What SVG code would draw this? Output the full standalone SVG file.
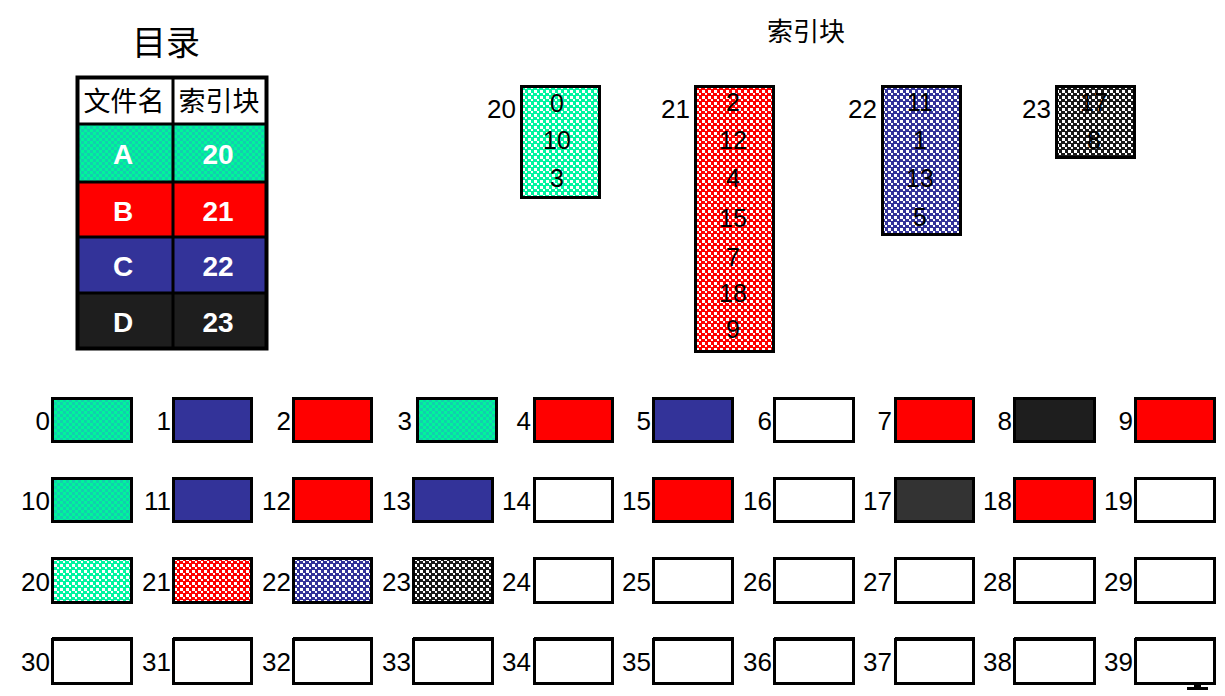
<svg xmlns="http://www.w3.org/2000/svg" width="1225" height="696" viewBox="0 0 1225 696">
<defs>
<pattern id="pTeal" width="6" height="6" patternUnits="userSpaceOnUse">
<rect width="6" height="6" fill="#00f59a"/>
<rect x="0" y="0" width="3" height="3" fill="#12cfae"/>
<rect x="3" y="3" width="3" height="3" fill="#12cfae"/>
</pattern>
<pattern id="pTealW" width="6" height="6" patternUnits="userSpaceOnUse">
<rect width="6" height="6" fill="#00f5a0"/>
<rect x="0" y="0" width="3" height="3" fill="#ffffff"/>
<rect x="3" y="3" width="2" height="2" fill="#ffffff"/>
</pattern>
<pattern id="pRedW" width="6" height="6" patternUnits="userSpaceOnUse">
<rect width="6" height="6" fill="#ff0000"/>
<rect x="0" y="0" width="3" height="3" fill="#ffffff"/>
<rect x="3" y="3" width="2" height="2" fill="#ffffff"/>
</pattern>
<pattern id="pBlueW" width="6" height="6" patternUnits="userSpaceOnUse">
<rect width="6" height="6" fill="#333399"/>
<rect x="0" y="0" width="3" height="3" fill="#ffffff"/>
<rect x="3" y="3" width="2" height="2" fill="#ffffff"/>
</pattern>
<pattern id="pBlackW" width="6" height="6" patternUnits="userSpaceOnUse">
<rect width="6" height="6" fill="#1a1a1a"/>
<rect x="0" y="0" width="3" height="3" fill="#ffffff"/>
<rect x="3" y="3" width="2" height="2" fill="#ffffff"/>
</pattern>
</defs>
<style>
.box{stroke:#000;stroke-width:3}
.lbl{font-family:"Liberation Sans",Arial,sans-serif;font-size:26px;fill:#000;text-anchor:end}
.idx{font-family:"Liberation Sans",Arial,sans-serif;font-size:25px;fill:#000;text-anchor:middle}
.cjk{font-family:"Liberation Sans","Noto Sans CJK SC",sans-serif;fill:#000;text-anchor:middle}
.cell{font-family:"Liberation Sans",Arial,sans-serif;font-size:28px;font-weight:bold;fill:#fff;text-anchor:middle}
.teal{fill:url(#pTeal)}
.red{fill:#ff0000}
.blue{fill:#333399}
.white{fill:#fff}
</style>
<rect width="1225" height="696" fill="#fff"/>

<g id="title-dir"><text class="cjk" x="166" y="55" font-size="34">目录</text></g>
<g id="title-index"><text class="cjk" x="806" y="41" font-size="26">索引块</text></g>

<g id="directory">
<rect x="77" y="77" width="190" height="47" fill="#fff"/>
<rect x="77" y="124" width="190" height="57" class="teal"/>
<rect x="77" y="181" width="190" height="56" fill="#ff0000"/>
<rect x="77" y="237" width="190" height="55" fill="#333399"/>
<rect x="77" y="292" width="190" height="56" fill="#1e1e1e"/>
<g stroke="#000" fill="none">
<rect x="77.5" y="77.5" width="189" height="271" stroke-width="4"/>
<line x1="173" y1="77" x2="173" y2="349" stroke-width="3"/>
<line x1="77" y1="124" x2="267" y2="124" stroke-width="3"/>
<line x1="77" y1="182" x2="267" y2="182" stroke-width="3"/>
<line x1="77" y1="237" x2="267" y2="237" stroke-width="3"/>
<line x1="77" y1="293" x2="267" y2="293" stroke-width="3"/>
</g>
<text class="cjk" x="124" y="111" font-size="27">文件名</text>
<text class="cjk" x="219" y="111" font-size="27">索引块</text>
<text class="cell" x="123" y="164">A</text><text class="cell" x="218" y="164">20</text>
<text class="cell" x="123" y="221">B</text><text class="cell" x="218" y="221">21</text>
<text class="cell" x="123" y="276">C</text><text class="cell" x="218" y="276">22</text>
<text class="cell" x="123" y="332">D</text><text class="cell" x="218" y="332">23</text>
</g>

<g id="index20">
<text class="lbl" x="516" y="118">20</text>
<rect class="box" x="521.5" y="86.5" width="78" height="111" fill="url(#pTealW)"/>
<text class="idx" x="557" y="112">0</text>
<text class="idx" x="557" y="149">10</text>
<text class="idx" x="557" y="187">3</text>
</g>
<g id="index21">
<text class="lbl" x="690" y="118">21</text>
<rect class="box" x="695.5" y="86.5" width="78" height="265" fill="url(#pRedW)"/>
<text class="idx" x="733" y="111">2</text>
<text class="idx" x="733" y="149">12</text>
<text class="idx" x="733" y="187">4</text>
<text class="idx" x="733" y="227">15</text>
<text class="idx" x="733" y="266">7</text>
<text class="idx" x="733" y="302">18</text>
<text class="idx" x="733" y="338">9</text>
</g>
<g id="index22">
<text class="lbl" x="877" y="118">22</text>
<rect class="box" x="882.5" y="86.5" width="78" height="148" fill="url(#pBlueW)"/>
<text class="idx" x="920" y="111">11</text>
<text class="idx" x="920" y="149">1</text>
<text class="idx" x="920" y="187">13</text>
<text class="idx" x="920" y="226">5</text>
</g>
<g id="index23">
<text class="lbl" x="1051" y="118">23</text>
<rect class="box" x="1056.5" y="86.5" width="78" height="71" fill="url(#pBlackW)"/>
<text class="idx" x="1094" y="111">17</text>
<text class="idx" x="1094" y="149">8</text>
</g>

<g id="blocks">
<g id="b0"><text class="lbl" x="50" y="430">0</text><rect class="box teal" x="52.5" y="398.5" width="79" height="43"/></g>
<g id="b1"><text class="lbl" x="171" y="430">1</text><rect class="box blue" x="173.5" y="398.5" width="78" height="43"/></g>
<g id="b2"><text class="lbl" x="291" y="430">2</text><rect class="box red" x="293.5" y="398.5" width="78" height="43"/></g>
<g id="b3"><text class="lbl" x="412" y="430">3</text><rect class="box teal" x="417.5" y="398.5" width="79" height="43"/></g>
<g id="b4"><text class="lbl" x="531" y="430">4</text><rect class="box red" x="534.5" y="398.5" width="78" height="43"/></g>
<g id="b5"><text class="lbl" x="651" y="430">5</text><rect class="box blue" x="653.5" y="398.5" width="79" height="43"/></g>
<g id="b6"><text class="lbl" x="772" y="430">6</text><rect class="box white" x="774.5" y="398.5" width="79" height="43"/></g>
<g id="b7"><text class="lbl" x="892" y="430">7</text><rect class="box red" x="895.5" y="398.5" width="78" height="43"/></g>
<g id="b8"><text class="lbl" x="1012" y="430">8</text><rect class="box" fill="#1e1e1e" x="1014.5" y="398.5" width="80" height="43"/></g>
<g id="b9"><text class="lbl" x="1133" y="430">9</text><rect class="box red" x="1135.5" y="398.5" width="79" height="43"/></g>

<g id="b10"><text class="lbl" x="50" y="510">10</text><rect class="box teal" x="52.5" y="478.5" width="79" height="43"/></g>
<g id="b11"><text class="lbl" x="171" y="510">11</text><rect class="box blue" x="173.5" y="478.5" width="78" height="43"/></g>
<g id="b12"><text class="lbl" x="291" y="510">12</text><rect class="box red" x="293.5" y="478.5" width="78" height="43"/></g>
<g id="b13"><text class="lbl" x="411" y="510">13</text><rect class="box blue" x="413.5" y="478.5" width="79" height="43"/></g>
<g id="b14"><text class="lbl" x="531" y="510">14</text><rect class="box white" x="534.5" y="478.5" width="78" height="43"/></g>
<g id="b15"><text class="lbl" x="651" y="510">15</text><rect class="box red" x="653.5" y="478.5" width="79" height="43"/></g>
<g id="b16"><text class="lbl" x="772" y="510">16</text><rect class="box white" x="774.5" y="478.5" width="79" height="43"/></g>
<g id="b17"><text class="lbl" x="892" y="510">17</text><rect class="box" fill="#333333" x="895.5" y="478.5" width="78" height="43"/></g>
<g id="b18"><text class="lbl" x="1012" y="510">18</text><rect class="box red" x="1014.5" y="478.5" width="80" height="43"/></g>
<g id="b19"><text class="lbl" x="1133" y="510">19</text><rect class="box white" x="1135.5" y="478.5" width="79" height="43"/></g>

<g id="b20"><text class="lbl" x="50" y="591">20</text><rect class="box" fill="url(#pTealW)" x="52.5" y="558.5" width="79" height="44"/></g>
<g id="b21"><text class="lbl" x="171" y="591">21</text><rect class="box" fill="url(#pRedW)" x="173.5" y="558.5" width="78" height="44"/></g>
<g id="b22"><text class="lbl" x="291" y="591">22</text><rect class="box" fill="url(#pBlueW)" x="293.5" y="558.5" width="78" height="44"/></g>
<g id="b23"><text class="lbl" x="411" y="591">23</text><rect class="box" fill="url(#pBlackW)" x="413.5" y="558.5" width="79" height="44"/></g>
<g id="b24"><text class="lbl" x="531" y="591">24</text><rect class="box white" x="534.5" y="558.5" width="78" height="44"/></g>
<g id="b25"><text class="lbl" x="651" y="591">25</text><rect class="box white" x="653.5" y="558.5" width="79" height="44"/></g>
<g id="b26"><text class="lbl" x="772" y="591">26</text><rect class="box white" x="774.5" y="558.5" width="79" height="44"/></g>
<g id="b27"><text class="lbl" x="892" y="591">27</text><rect class="box white" x="895.5" y="558.5" width="78" height="44"/></g>
<g id="b28"><text class="lbl" x="1012" y="591">28</text><rect class="box white" x="1014.5" y="558.5" width="80" height="44"/></g>
<g id="b29"><text class="lbl" x="1133" y="591">29</text><rect class="box white" x="1135.5" y="558.5" width="79" height="44"/></g>

<g id="b30"><text class="lbl" x="50" y="671">30</text><rect class="box white" x="52.5" y="639.5" width="79" height="44"/></g>
<g id="b31"><text class="lbl" x="171" y="671">31</text><rect class="box white" x="173.5" y="639.5" width="78" height="44"/></g>
<g id="b32"><text class="lbl" x="291" y="671">32</text><rect class="box white" x="293.5" y="639.5" width="78" height="44"/></g>
<g id="b33"><text class="lbl" x="411" y="671">33</text><rect class="box white" x="413.5" y="639.5" width="79" height="44"/></g>
<g id="b34"><text class="lbl" x="531" y="671">34</text><rect class="box white" x="534.5" y="639.5" width="78" height="44"/></g>
<g id="b35"><text class="lbl" x="651" y="671">35</text><rect class="box white" x="653.5" y="639.5" width="79" height="44"/></g>
<g id="b36"><text class="lbl" x="772" y="671">36</text><rect class="box white" x="774.5" y="639.5" width="79" height="44"/></g>
<g id="b37"><text class="lbl" x="892" y="671">37</text><rect class="box white" x="895.5" y="639.5" width="78" height="44"/></g>
<g id="b38"><text class="lbl" x="1012" y="671">38</text><rect class="box white" x="1014.5" y="639.5" width="80" height="44"/></g>
<g id="b39"><text class="lbl" x="1133" y="671">39</text><rect class="box white" x="1135.5" y="639.5" width="79" height="44"/></g>
<g id="row4-top" fill="#000">
<rect x="52" y="637" width="81" height="3"/><rect x="173" y="637" width="80" height="3"/><rect x="293" y="637" width="80" height="3"/><rect x="413" y="637" width="81" height="3"/><rect x="534" y="637" width="80" height="3"/><rect x="653" y="637" width="81" height="3"/><rect x="774" y="637" width="81" height="3"/><rect x="895" y="637" width="80" height="3"/><rect x="1014" y="637" width="82" height="3"/><rect x="1135" y="637" width="81" height="3"/>
</g>
</g>
<g id="connectors"></g>
<path d="M1187 687h7v-3h7v3h7v3h-21z" fill="#000"/>
</svg>
